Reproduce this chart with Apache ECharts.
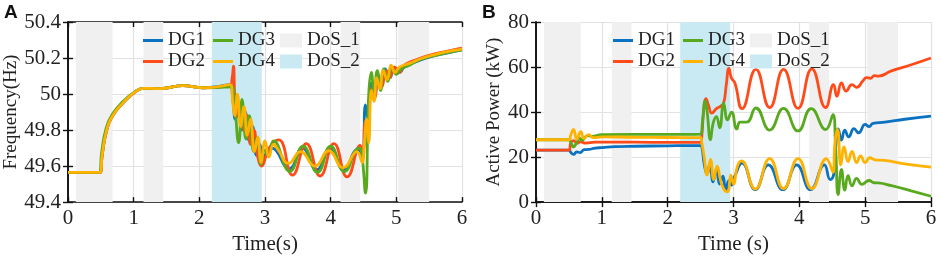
<!DOCTYPE html>
<html>
<head>
<meta charset="utf-8">
<script src="https://cdn.jsdelivr.net/npm/echarts@6/dist/echarts.min.js"></script>
<style>
  html, body { margin: 0; padding: 0; background: #fff; }
  #chart { width: 941px; height: 260px; }
</style>
</head>
<body>
<div id="chart"></div>
<script>
// attack windows (s)
const dos1Spans = [[0.12, 0.68], [1.15, 1.45], [4.15, 4.45], [5.03, 5.5]];
const dos2Spans = [[2.19, 2.95]];

// panel A: frequency (Hz), [time, value]
const freqDG1 = [[0,49.565],[0.49,49.565],[0.52,49.66],[0.59,49.8],[0.69,49.885],[0.85,49.955],[1.0,50.005],[1.15,50.032],[1.4,50.03],[1.75,50.047],[2.05,50.035],[2.47,50.052],
  [2.51,49.97],[2.55,49.86],[2.6,49.95],[2.65,49.8],[2.7,49.9],[2.76,49.74],[2.81,49.82],[2.87,49.66],[2.92,49.72],[2.97,49.63],[3.03,49.68],[3.1,49.7],
  [3.37,49.585],[3.57,49.7],[3.79,49.58],[3.99,49.7],[4.2,49.58],[4.41,49.69],[4.48,49.66],[4.53,49.94],[4.57,49.86],[4.62,50.06],[4.67,49.99],[4.72,50.11],
  [4.77,50.05],[4.83,50.14],[4.9,50.09],[4.97,50.15],[5.05,50.12],[5.12,50.15],[5.3,50.18],[5.5,50.205],[5.8,50.23],[6,50.245]];
const freqDG2 = [[0,49.565],[0.49,49.565],[0.52,49.66],[0.59,49.8],[0.69,49.885],[0.85,49.955],[1.0,50.005],[1.15,50.032],[1.4,50.03],[1.75,50.047],[2.05,50.035],[2.47,50.05],
  [2.5,50.09],[2.52,50.155],[2.54,49.98],[2.57,49.87],[2.62,49.94],[2.67,49.8],[2.72,49.88],[2.78,49.72],[2.83,49.8],[2.89,49.65],[2.95,49.6],[3.02,49.66],[3.1,49.72],
  [3.21,49.745],[3.42,49.55],[3.63,49.725],[3.84,49.545],[4.05,49.725],[4.25,49.54],[4.45,49.715],[4.49,49.64],[4.53,49.85],[4.57,49.8],[4.62,50.03],[4.67,49.98],
  [4.72,50.1],[4.78,50.04],[4.84,50.13],[4.9,50.09],[4.97,50.15],[5.05,50.12],[5.12,50.16],[5.3,50.19],[5.5,50.215],[5.8,50.24],[6,50.255]];
const freqDG3 = [[0,49.565],[0.48,49.565],[0.51,49.67],[0.58,49.81],[0.68,49.89],[0.84,49.96],[1.0,50.008],[1.15,50.032],[1.4,50.03],[1.75,50.047],[2.05,50.035],[2.5,50.04],
  [2.53,49.98],[2.6,49.73],[2.65,49.97],[2.71,49.75],[2.76,49.88],[2.83,49.68],[2.88,49.76],[2.94,49.61],[3.0,49.69],[3.05,49.66],[3.13,49.74],
  [3.38,49.57],[3.58,49.71],[3.8,49.565],[4.0,49.71],[4.21,49.57],[4.43,49.7],[4.47,49.68],[4.53,49.45],[4.58,50.0],[4.62,50.12],[4.66,50.0],[4.71,50.13],
  [4.76,50.02],[4.81,50.14],[4.87,50.07],[4.93,50.15],[5.0,50.11],[5.08,50.14],[5.2,50.16],[5.35,50.19],[5.6,50.215],[6,50.245]];
const freqDG4 = [[0,49.565],[0.49,49.565],[0.52,49.66],[0.59,49.8],[0.69,49.885],[0.85,49.955],[1.0,50.005],[1.15,50.032],[1.4,50.03],[1.75,50.047],[2.05,50.035],[2.47,50.052],
  [2.51,49.95],[2.54,49.88],[2.58,50.0],[2.63,49.82],[2.68,49.93],[2.73,49.77],[2.78,49.86],[2.84,49.68],[2.89,49.76],[2.94,49.62],[3.0,49.74],[3.06,49.65],[3.13,49.72],
  [3.2,49.69],[3.36,49.615],[3.54,49.68],[3.76,49.6],[3.97,49.685],[4.19,49.59],[4.4,49.68],[4.48,49.62],[4.51,49.72],[4.55,49.86],[4.58,49.73],[4.62,50.02],
  [4.66,49.96],[4.7,50.09],[4.75,50.03],[4.8,50.13],[4.86,50.08],[4.92,50.16],[4.98,50.12],[5.05,50.15],[5.2,50.17],[5.4,50.2],[5.7,50.23],[6,50.25]];

// panel B: active power (kW), [time, value]
const powDG1 = [[0,23.1],[0.5,23.1],[0.53,22],[0.57,21.2],[0.62,22.3],[0.67,22],[0.73,23.3],[0.8,23.4],[0.9,24],[1.0,24.2],[1.2,24.6],[1.5,24.8],[2.0,25],[2.5,25.1],
  [2.52,24.5],[2.56,16],[2.6,12.5],[2.64,17],[2.69,9],[2.74,14.5],[2.79,8],[2.84,11.5],[2.88,5],[2.93,9.5],[2.97,7.5],[3.02,11.5],[3.13,17.3],
  [3.33,5.5],[3.53,16.5],[3.75,5.5],[3.96,16.5],[4.17,5.5],[4.38,16.5],[4.47,10],[4.52,12],[4.56,27],[4.59,32.5],[4.64,27.5],[4.69,32],[4.75,29],
  [4.83,32.6],[4.9,30.8],[5.0,34.5],[5.06,33.5],[5.12,35],[5.3,35.5],[5.6,36.8],[6,38.2]];
const powDG2 = [[0,23.1],[0.5,23.1],[0.53,26.5],[0.57,27.3],[0.62,26.2],[0.68,26.8],[0.75,26.2],[0.9,26.6],[1.5,26.6],[2.0,26.5],[2.5,26.5],
  [2.52,30],[2.55,42],[2.58,46],[2.62,43],[2.67,39.5],[2.74,41.5],[2.8,42.5],[2.85,44],[2.89,52],[2.93,59.4],[2.97,55],[3.02,53],[3.13,41.5],
  [3.34,59],[3.55,42],[3.76,59],[3.98,41.6],[4.19,59.2],[4.4,42],[4.52,52.2],[4.57,47],[4.64,53],[4.71,49.3],[4.8,52.2],[4.87,51],[4.97,54],
  [5.02,55.3],[5.08,55],[5.14,56.2],[5.2,56],[5.4,58.3],[5.7,61],[6,64]];
const powDG3 = [[0,27.7],[0.5,27.7],[0.53,26.5],[0.57,24.5],[0.62,26.5],[0.66,28.5],[0.7,27.5],[0.78,29.5],[0.85,29.2],[1.0,30],[1.5,30.1],[2.0,30.1],[2.5,30.2],
  [2.53,36],[2.57,45],[2.6,40],[2.65,27.7],[2.69,35],[2.74,38],[2.79,33],[2.85,44],[2.91,36.5],[2.97,40],[3.05,32.5],[3.1,35.5],[3.2,35.5],
  [3.34,41.8],[3.55,32],[3.76,41.6],[3.98,31.6],[4.18,41.5],[4.4,32.2],[4.51,38.8],[4.55,25],[4.59,3.3],[4.64,14.5],[4.69,5.3],[4.74,11.8],
  [4.8,7.2],[4.87,10.5],[4.95,7.9],[5.06,9.6],[5.13,8.6],[5.2,8.5],[5.4,7.3],[5.7,5],[6,2.6]];
const powDG4 = [[0,27.7],[0.5,27.7],[0.53,30],[0.57,32.3],[0.62,27.9],[0.68,31.3],[0.73,28.3],[0.8,30],[0.87,28.6],[1.0,29],[1.5,28.8],[2.0,28.7],[2.5,28.6],
  [2.52,26],[2.55,21],[2.6,12],[2.65,19],[2.7,10],[2.75,16],[2.81,9],[2.87,5],[2.91,4.6],[2.96,12],[3.0,8],[3.06,16],[3.12,18.3],
  [3.33,5.8],[3.55,19.3],[3.76,6],[3.98,19.3],[4.19,6],[4.41,19.3],[4.51,13.3],[4.54,26],[4.58,32.3],[4.63,16.5],[4.68,24.5],[4.74,18],
  [4.8,22.5],[4.87,17.5],[4.93,20.5],[5.0,17.5],[5.07,19.7],[5.15,18.8],[5.3,18.5],[5.6,17],[6,15.5]];

const colors = { DG1: "#0a72c0", DG2: "#ff4b1a", DG3: "#58a91e", DG4: "#ffb300" };
const dosColors = { DoS_1: "#f0f0f0", DoS_2: "#c9eaf2" };
const serif = "Liberation Serif";

const chart = echarts.init(document.getElementById("chart"));

function xAxes(gridIndex, name) {
  return [
    {
      gridIndex, type: "value", min: 0, max: 6, interval: 1, position: "bottom",
      name, nameLocation: "middle", nameGap: 22,
      nameTextStyle: { fontFamily: serif, fontSize: 21, color: "#222" },
      axisLine: { lineStyle: { color: "#111", width: 1.6 } },
      axisTick: { inside: true, length: 5, lineStyle: { color: "#111", width: 1.4 } },
      axisLabel: { fontFamily: serif, fontSize: 21, color: "#222", margin: 6 },
      splitLine: { show: true, lineStyle: { color: "#e2e2e2", width: 1.2 } },
    },
    {
      gridIndex, type: "value", min: 0, max: 6, interval: 1, position: "top",
      axisLine: { lineStyle: { color: "#111", width: 1.6 } },
      axisTick: { inside: true, length: 5, lineStyle: { color: "#111", width: 1.4 } },
      axisLabel: { show: false },
      splitLine: { show: false },
    },
  ];
}

function yAxes(gridIndex, name, min, max, interval, nameGap, fmt) {
  return [
    {
      gridIndex, type: "value", min, max, interval, position: "left",
      name, nameLocation: "middle", nameGap,
      nameTextStyle: { fontFamily: serif, fontSize: 19, color: "#222" },
      axisLine: { show: true, lineStyle: { color: "#111", width: 1.6 } },
      axisTick: { show: true, inside: true, length: 5, lineStyle: { color: "#111", width: 1.4 } },
      axisLabel: { fontFamily: serif, fontSize: 21, color: "#222", margin: 7, formatter: fmt },
      splitLine: { show: true, lineStyle: { color: "#e2e2e2", width: 1.2 } },
    },
    {
      gridIndex, type: "value", min, max, interval, position: "right",
      axisLine: { show: true, lineStyle: { color: "#111", width: 1.6 } },
      axisTick: { show: true, inside: true, length: 5, lineStyle: { color: "#111", width: 1.4 } },
      axisLabel: { show: false },
      splitLine: { show: false },
    },
  ];
}

function panelSeries(xi, yi, dg) {
  const base = { xAxisIndex: xi, yAxisIndex: yi, silent: true, animation: false };
  const areas = (spans) => spans.map((s) => [{ xAxis: s[0] }, { xAxis: s[1] }]);
  const list = [
    Object.assign({}, base, {
      name: "DoS_1", type: "line", data: [], color: dosColors.DoS_1,
      markArea: { silent: true, itemStyle: { color: dosColors.DoS_1 }, data: areas(dos1Spans) },
    }),
    Object.assign({}, base, {
      name: "DoS_2", type: "line", data: [], color: dosColors.DoS_2,
      markArea: { silent: true, itemStyle: { color: dosColors.DoS_2 }, data: areas(dos2Spans) },
    }),
  ];
  ["DG1", "DG2", "DG3", "DG4"].forEach((n, i) => {
    list.push(Object.assign({}, base, {
      name: n, type: "line", data: dg[i], color: colors[n],
      showSymbol: false, smooth: 0.5,
      lineStyle: { width: 2.8, color: colors[n] },
    }));
  });
  return list;
}

function legends(x0, y0) {
  const common = {
    orient: "vertical", selectedMode: false, itemGap: 0, padding: 0,
    textStyle: { fontFamily: serif, fontSize: 19, color: "#222", lineHeight: 21 },
  };
  return [
    Object.assign({}, common, { left: x0, top: y0, icon: "rect", itemWidth: 20, itemHeight: 3, data: ["DG1", "DG2"] }),
    Object.assign({}, common, { left: x0 + 70, top: y0, icon: "rect", itemWidth: 20, itemHeight: 3, data: ["DG3", "DG4"] }),
    Object.assign({}, common, { left: x0 + 137, top: y0, icon: "rect", itemWidth: 22, itemHeight: 14, data: ["DoS_1", "DoS_2"] }),
  ];
}

chart.setOption({
  backgroundColor: "#fff",
  animation: false,
  grid: [
    { left: 68, top: 22, width: 394, height: 184 },
    { left: 536, top: 22, width: 395, height: 185 },
  ],
  xAxis: [].concat(xAxes(0, "Time(s)"), xAxes(1, "Time (s)")),
  yAxis: [].concat(
    yAxes(0, "Frequency(Hz)", 49.4, 50.4, 0.2, 47, (v) => String(+v.toFixed(1))),
    yAxes(1, "Active Power (kW)", 0, 80, 20, 32, (v) => String(v))
  ),
  legend: [].concat(legends(143, 30), legends(613, 30)),
  graphic: [
    { type: "text", left: 4, top: 3, style: { text: "A", fontFamily: "Liberation Sans", fontWeight: "bold", fontSize: 19, fill: "#111" } },
    { type: "text", left: 482, top: 3, style: { text: "B", fontFamily: "Liberation Sans", fontWeight: "bold", fontSize: 19, fill: "#111" } },
  ],
  series: [].concat(
    panelSeries(0, 0, [freqDG1, freqDG2, freqDG3, freqDG4]),
    panelSeries(2, 2, [powDG1, powDG2, powDG3, powDG4])
  ),
});
</script>
</body>
</html>
